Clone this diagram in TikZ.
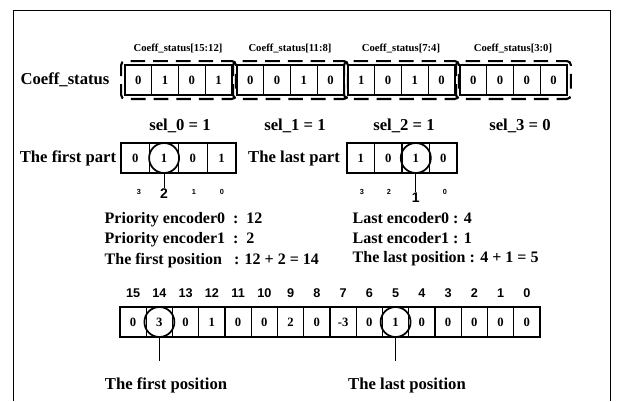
\documentclass[tikz,border=0pt]{standalone}
\usepackage{fontspec}
\setmainfont{Liberation Serif}
\setsansfont{Liberation Sans}
\usetikzlibrary{fit}

\begin{document}
\begin{tikzpicture}[x=0.75pt,y=-0.75pt,
  cell/.style={draw,line width=0.9pt,minimum width=#1,minimum height=22.5pt,inner sep=0pt,font=\bfseries\fontsize{9.5}{10}\selectfont},
  cell/.default=20pt,
  grp/.style={draw,line width=1.6pt,dash pattern=on 11pt off 6pt,dash phase=3pt,rounded corners=3pt,inner sep=2.5pt},
  ring/.style={circle,draw,line width=1.3pt,minimum size=22.5pt,inner sep=0pt},
  lbl/.style={font=\bfseries\fontsize{12.5}{14}\selectfont},
  txt/.style={anchor=west,font=\bfseries\fontsize{12}{14}\selectfont},
  sub/.style={font=\bfseries\fontsize{8}{9}\selectfont},
  idx/.style={font=\sffamily\bfseries\fontsize{5.5}{6}\selectfont},
  big/.style={font=\sffamily\bfseries\fontsize{10.5}{11}\selectfont,inner sep=1pt},
  num/.style={font=\sffamily\bfseries\fontsize{9.5}{10}\selectfont}]
  \useasboundingbox (0,0) rectangle (617,401);
  \draw[line width=0.6pt] (13,401) -- (13,10) -- (610,10) -- (610,401);
  % Coeff_status
  \node[lbl] (cs) at (65,80) {Coeff\_status};
  \node[cell] (s15) at (138.4,80) {0};
  \node[cell] (s14) at (165.1,80) {1};
  \node[cell] (s13) at (191.9,80) {0};
  \node[cell] (s12) at (218.6,80) {1};
  \node[cell] (s11) at (250.4,80) {0};
  \node[cell] (s10) at (277.1,80) {0};
  \node[cell] (s9) at (303.9,80) {1};
  \node[cell] (s8) at (330.6,80) {0};
  \node[cell] (s7) at (361.4,80) {1};
  \node[cell] (s6) at (388.1,80) {0};
  \node[cell] (s5) at (414.9,80) {1};
  \node[cell] (s4) at (441.6,80) {0};
  \node[cell] (s3) at (473.4,80) {0};
  \node[cell] (s2) at (500.1,80) {0};
  \node[cell] (s1) at (526.9,80) {0};
  \node[cell] (s0) at (553.6,80) {0};
  \node[grp,fit=(s15)(s12)] (g0) {};
  \node[grp,fit=(s11)(s8)] (g1) {};
  \node[grp,fit=(s7)(s4)] (g2) {};
  \node[grp,fit=(s3)(s0)] (g3) {};
  \node[sub] (h0) at (178,48) {Coeff\_status[15:12]};
  \node[sub] (h1) at (290,48) {Coeff\_status[11:8]};
  \node[sub] (h2) at (401,48) {Coeff\_status[7:4]};
  \node[sub] (h3) at (513,48) {Coeff\_status[3:0]};
  \node[lbl] (sel0) at (180,126) {sel\_0 = 1};
  \node[lbl] (sel1) at (295,126) {sel\_1 = 1};
  \node[lbl] (sel2) at (404,126) {sel\_2 = 1};
  \node[lbl] (sel3) at (520,126) {sel\_3 = 0};
  % first part
  \node[lbl] (fp) at (68,158) {The first part};
  \node[cell=21.5pt] (f3) at (135.4,158) {0};
  \node[cell=21.5pt] (f2) at (164.1,158) {1};
  \node[cell=21.5pt] (f1) at (192.9,158) {0};
  \node[cell=21.5pt] (f0) at (221.6,158) {1};
  \node[ring] (fr) at (f2) {};
  \node[idx] (fi3) at (139,192) {3};
  \node[big] (fi2) at (164.1,194) {2};
  \node[idx] (fi1) at (194,192) {1};
  \node[idx] (fi0) at (222,192) {0};
  \draw[line width=0.9pt] (fr.south) -- (fi2.north);
  % last part
  \node[lbl] (lp) at (294,158) {The last part};
  \node[cell=20.6pt] (l3) at (360.8,158) {1};
  \node[cell=20.6pt] (l2) at (388.3,158) {0};
  \node[cell=20.6pt] (l1) at (415.8,158) {1};
  \node[cell=20.6pt] (l0) at (443.3,158) {0};
  \node[ring] (lr) at (l1) {};
  \node[idx] (li3) at (362,192) {3};
  \node[idx] (li2) at (389,192) {2};
  \node[big] (li1) at (415.8,198) {1};
  \node[idx] (li0) at (445,192) {0};
  \draw[line width=0.9pt] (lr.south) -- (li1.north);
  % encoders
  \node[txt] (pe0) at (100,220) {Priority encoder0\ \ :\ \ 12};
  \node[txt] (pe1) at (100,240) {Priority encoder1\ \ :\ \ 2};
  \node[txt] (fpos) at (100,261) {The first position\ \ \ : 12 + 2 = 14};
  \node[txt] (le0) at (348,218) {Last encoder0 : 4};
  \node[txt] (le1) at (348,238) {Last encoder1 : 1};
  \node[txt] (lpos) at (348,259) {The last position : 4 + 1 = 5};
  % result
  \node[num] (n15) at (133.1,293) {15};
  \node[num] (n14) at (159.4,293) {14};
  \node[num] (n13) at (185.6,293) {13};
  \node[num] (n12) at (211.9,293) {12};
  \node[num] (n11) at (238.1,293) {11};
  \node[num] (n10) at (264.4,293) {10};
  \node[num] (n9) at (290.6,293) {9};
  \node[num] (n8) at (316.9,293) {8};
  \node[num] (n7) at (343.1,293) {7};
  \node[num] (n6) at (369.4,293) {6};
  \node[num] (n5) at (395.6,293) {5};
  \node[num] (n4) at (421.9,293) {4};
  \node[num] (n3) at (448.1,293) {3};
  \node[num] (n2) at (474.4,293) {2};
  \node[num] (n1) at (500.6,293) {1};
  \node[num] (n0) at (526.9,293) {0};
  \node[cell=19.7pt] (b15) at (133.1,322) {0};
  \node[cell=19.7pt] (b14) at (159.4,322) {3};
  \node[cell=19.7pt] (b13) at (185.6,322) {0};
  \node[cell=19.7pt] (b12) at (211.9,322) {1};
  \node[cell=19.7pt] (b11) at (238.1,322) {0};
  \node[cell=19.7pt] (b10) at (264.4,322) {0};
  \node[cell=19.7pt] (b9) at (290.6,322) {2};
  \node[cell=19.7pt] (b8) at (316.9,322) {0};
  \node[cell=19.7pt] (b7) at (343.1,322) {-3};
  \node[cell=19.7pt] (b6) at (369.4,322) {0};
  \node[cell=19.7pt] (b5) at (395.6,322) {1};
  \node[cell=19.7pt] (b4) at (421.9,322) {0};
  \node[cell=19.7pt] (b3) at (448.1,322) {0};
  \node[cell=19.7pt] (b2) at (474.4,322) {0};
  \node[cell=19.7pt] (b1) at (500.6,322) {0};
  \node[cell=19.7pt] (b0) at (526.9,322) {0};
  \node[ring] (br14) at (b14) {};
  \node[ring] (br5) at (b5) {};
  \node[lbl] (tf) at (166,385) {The first position};
  \node[lbl] (tl) at (407,385) {The last position};
  \draw[line width=0.6pt,shorten >=9pt] (br14.south) -- (br14.south |- tf.north);
  \draw[line width=0.6pt,shorten >=9pt] (br5.south) -- (br5.south |- tl.north);
\end{tikzpicture}
\end{document}
